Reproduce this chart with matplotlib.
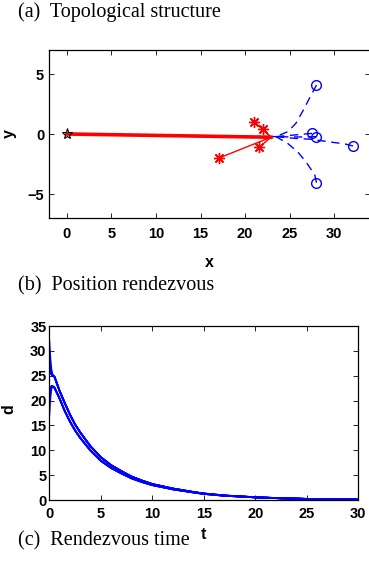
import matplotlib
matplotlib.use("Agg")
import matplotlib.pyplot as plt

# ---- (a) positions ----
leader = (0.0, 0.0)
meet_red = (22.9, -0.27)
meet_blue = (23.45, -0.22)

red_x = [21.0, 22.0, 21.57, 17.06]
red_y = [1.03, 0.39, -1.1, -2.0]

blue_x = [28.0, 27.5, 27.96, 32.1, 28.0]
blue_y = [4.08, 0.05, -0.22, -1.0, -4.06]

# dashed paths of the blue agents (waypoints from circle to meeting point)
blue_paths = [
    ([28.0, 27.4, 26.6, 25.7, 24.8, 23.45], [4.08, 3.25, 2.1, 0.9, 0.2, -0.22]),
    ([27.5, 26.0, 24.5, 23.45], [0.05, -0.05, -0.15, -0.22]),
    ([27.96, 26.3, 24.8, 23.45], [-0.22, -0.25, -0.24, -0.22]),
    ([32.1, 31.2, 29.3, 27.4, 25.5, 23.45], [-1.0, -0.83, -0.64, -0.44, -0.36, -0.22]),
    ([28.0, 27.8, 26.8, 25.9, 24.8, 23.45], [-4.06, -3.4, -2.3, -1.5, -0.8, -0.22]),
]

# ---- (b) distances d(t) ----
t_early = [0, 0.1, 0.2, 0.3, 0.5]
d_early = [
    [32.0, 28.5, 26.3, 25.3, 24.8],
    [28.3, 26.6, 25.6, 25.1, 24.8],
    [28.0, 26.3, 25.4, 25.0, 24.8],
    [27.5, 26.0, 25.3, 25.0, 24.8],
    [28.3, 26.5, 25.5, 25.1, 24.8],
    [17.1, 20.5, 22.3, 22.9, 22.6],
    [21.0, 22.2, 22.8, 22.9, 22.6],
    [22.0, 22.6, 22.9, 22.9, 22.6],
    [21.6, 22.4, 22.8, 22.9, 22.6],
]
t_tail = [1, 1.5, 2, 2.5, 3, 4, 5, 6, 7, 8, 9, 10, 12, 14, 15, 17, 20, 22.5, 25, 27.5, 30]
d_tail_upper = [21.95, 19.5, 17.2, 15.2, 13.6, 10.8, 8.6, 7.0, 5.8, 4.7, 3.9, 3.2,
                2.3, 1.6, 1.3, 0.9, 0.55, 0.35, 0.22, 0.13, 0.08]
d_tail_lower = [20.4, 17.9, 15.8, 14.0, 12.5, 9.95, 7.9, 6.45, 5.35, 4.35, 3.62, 3.0,
                2.15, 1.52, 1.23, 0.86, 0.53, 0.34, 0.21, 0.12, 0.07]

W, H = 369, 564
fig = plt.figure(figsize=(W / 100, H / 100), dpi=100)

labfont = dict(family="Liberation Sans", weight="bold", size=11.5)
capfont = dict(family="Liberation Serif", size=14.5)


def style(ax, xpad, ypad):
    ax.tick_params(direction="in", length=3.6, width=0.6, top=True, right=True,
                   labelsize=10.5)
    ax.tick_params(axis="x", pad=xpad)
    ax.tick_params(axis="y", pad=ypad)
    for lab in ax.get_xticklabels() + ax.get_yticklabels():
        lab.set_fontfamily("Liberation Sans")
        lab.set_fontweight("bold")
    for s in ax.spines.values():
        s.set_linewidth(0.9)


# top panel
ax1 = fig.add_axes([49 / W, (H - 218) / H, 321 / W, 168 / H])
ax1.plot([meet_blue[0], leader[0]], [meet_blue[1], leader[1]], "--", color="#0000ff", lw=1)
for px, py in blue_paths:
    ax1.plot(px, py, "--", color="#0000ff", lw=1, dashes=(6, 4))
ax1.plot(blue_x, blue_y, "o", mfc="none", mec="#0000ff", ms=7, mew=1)
for rx, ry in zip(red_x, red_y):
    ax1.plot([rx, meet_red[0]], [ry, meet_red[1]], "-", color="#ff0000", lw=1)
ax1.plot([meet_red[0], leader[0]], [meet_red[1], leader[1]], "-", color="#ff0000", lw=2.6)
ax1.plot(red_x, red_y, ls="none", marker=(8, 2, 0), color="#ff0000", ms=8, mew=1)
ax1.plot([leader[0]], [leader[1]], "*", mfc="none", mec="k", ms=8, mew=0.8)
ax1.set_xlim(-2, 34)
ax1.set_ylim(-7, 7)
ax1.set_xticks([0, 5, 10, 15, 20, 25, 30])
ax1.set_yticks([-5, 0, 5])
style(ax1, 6.5, 3.5)
ax1.set_xlabel("x", **labfont)
ax1.set_ylabel("y", **labfont)
ax1.xaxis.set_label_coords(0.5, -0.22)
ax1.yaxis.set_label_coords(-0.1, 0.5)

# bottom panel
ax2 = fig.add_axes([49.3 / W, (H - 500) / H, 309 / W, 174 / H])
for i, de in enumerate(d_early):
    tail = d_tail_upper if i < 5 else d_tail_lower
    ax2.plot(t_early + t_tail, de + tail, color="#0000ff", lw=1.3)
ax2.set_xlim(0, 30)
ax2.set_ylim(0, 35)
ax2.set_xticks([0, 5, 10, 15, 20, 25, 30])
ax2.set_yticks([0, 5, 10, 15, 20, 25, 30, 35])
style(ax2, 5, 2)
ax2.set_xlabel("t", **labfont)
ax2.set_ylabel("d", **labfont)
ax2.xaxis.set_label_coords(0.5, -0.155)
ax2.yaxis.set_label_coords(-0.105, 0.52)

fig.text(18 / W, 1 - 12 / H, "(a)  Topological structure", va="center", ha="left", **capfont)
fig.text(18 / W, 1 - 286 / H, "(b)  Position rendezvous", va="center", ha="left", **capfont)
fig.text(18 / W, 1 - 541 / H, "(c)  Rendezvous time", va="center", ha="left", **capfont)

fig.savefig("out.png", dpi=100)
